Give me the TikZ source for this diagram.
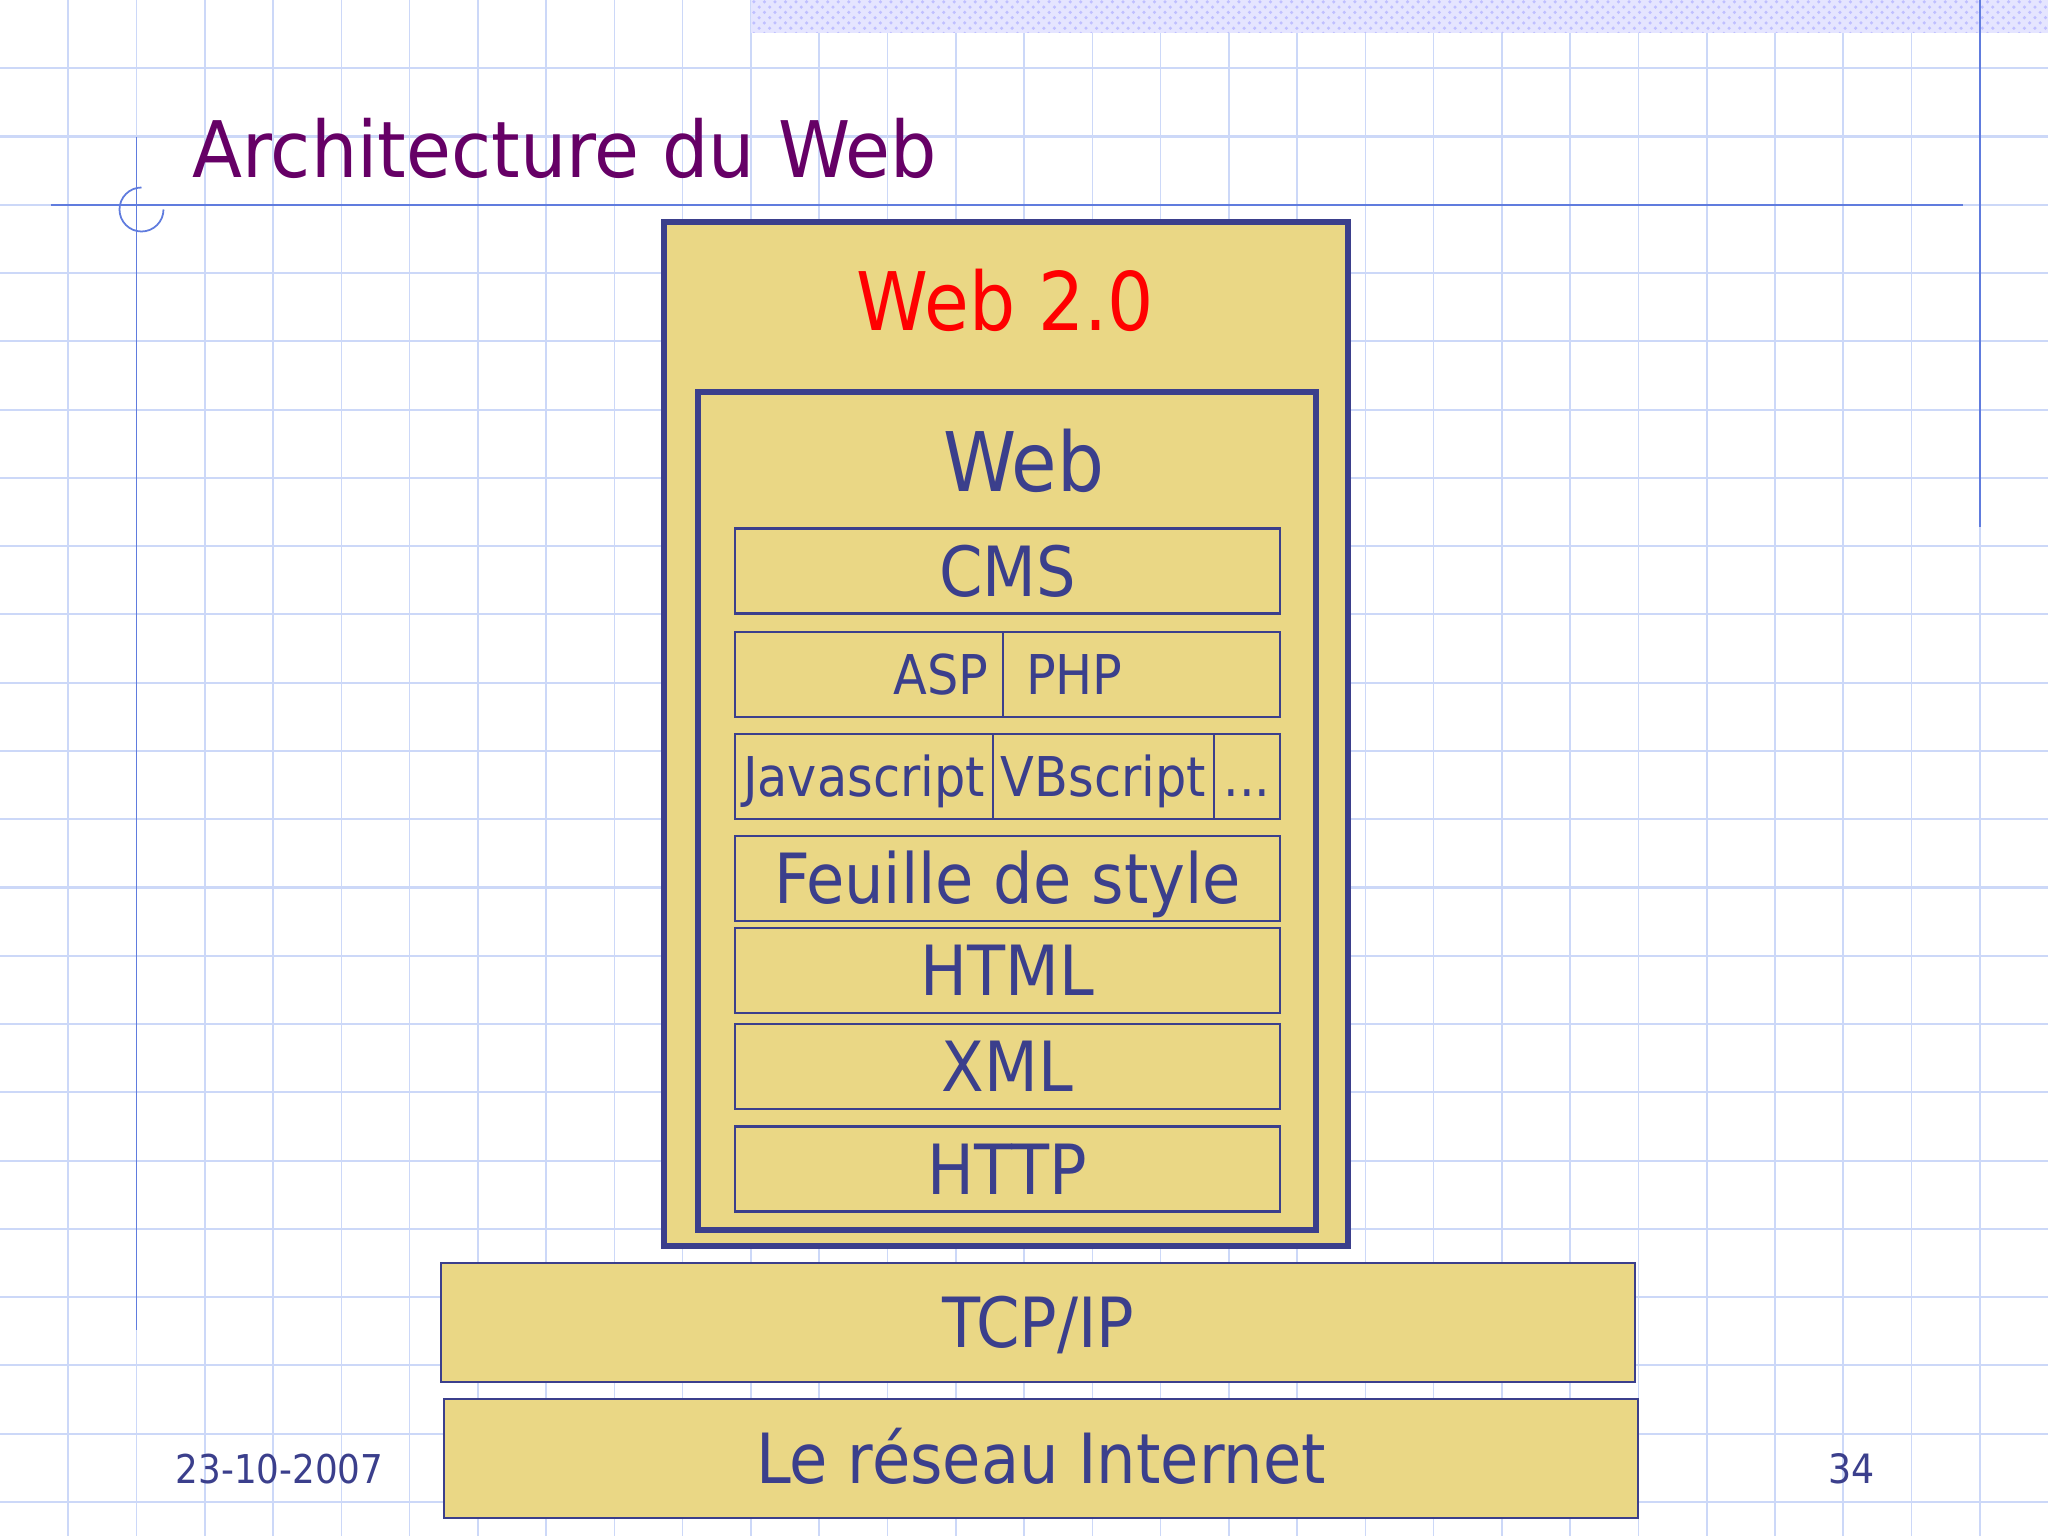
\documentclass[tikz,border=0pt]{standalone}
\usepackage{fontspec}
\setmainfont{DejaVu Sans Condensed}
\newfontfamily\titlefont{DejaVu Sans Condensed}[FakeStretch=1.04]
\usetikzlibrary{patterns}
\definecolor{gold}{RGB}{234,215,133}
\definecolor{ink}{RGB}{59,63,140}
\definecolor{gridblue}{RGB}{204,216,248}
\definecolor{ruleblue}{RGB}{96,124,222}
\definecolor{titlepurple}{RGB}{102,0,102}

\begin{document}
\begin{tikzpicture}[x=1cm,y=1cm,
    layer/.style={draw=ink, fill=gold, text=ink, line width=0.6pt, inner sep=0pt},
    frame/.style={draw=ink, fill=gold, line width=1.6pt, inner sep=0pt},
    row/.style={layer, minimum height=0.85cm},
    lbl/.style={text=ink, inner sep=0pt, text depth=0pt},
    big/.style={font=\fontsize{19.7}{22}\selectfont, text height=0.505cm, text depth=0pt},
    small/.style={font=\fontsize{15.6}{18}\selectfont, text height=0.40cm, text depth=0pt}]

    \useasboundingbox (0,0) rectangle (20.48,-15.36);
    \fill[white] (0,0) rectangle (20.48,-15.36);
    % squared paper
    \foreach \i in {1,...,29}
      \draw[gridblue, line width=0.45pt] (\i*0.6827,0) -- (\i*0.6827,-15.36);
    \foreach \j in {1,...,22}
      \draw[gridblue, line width=0.6pt] (0,-\j*0.6827) -- (20.48,-\j*0.6827);
    \fill[blue!10] (7.51,0) rectangle (20.48,-0.33);
    \fill[pattern=crosshatch dots, pattern color=blue!25] (7.51,0) rectangle (20.48,-0.33);
    \draw[ruleblue, line width=0.6pt] (0.51,-2.05) -- (19.63,-2.05);
    \draw[ruleblue, line width=0.5pt] (1.365,-1.37) -- (1.365,-13.30);
    \draw[ruleblue, line width=0.5pt] (19.80,0) -- (19.80,-5.27);
    \draw[ruleblue, line width=0.5pt] (1.415,-1.875) arc[start angle=90, end angle=360, radius=0.22];

    \node[anchor=base west, inner sep=0pt, text=titlepurple, font=\titlefont\fontsize{22.2}{26}\selectfont] (title) at (1.92,-1.78) {Architecture du Web};

    % web stack
    \node[frame, minimum width=6.84cm, minimum height=10.24cm] (web20) at (10.06,-7.34) {};
    \node[lbl, text=red, font=\fontsize{23}{28}\selectfont, text height=0.59cm] (web20lbl) at (10.054,-3.015) {Web 2.0};
    \node[frame, minimum width=6.18cm, minimum height=8.38cm] (web) at (10.07,-8.11) {};
    \node[lbl, font=\fontsize{23.4}{28}\selectfont, text height=0.60cm] (weblbl) at (10.235,-4.62) {Web};

    \node[row, big, minimum width=5.45cm] (cms) at (10.075,-5.71) {CMS};
    \node[row, minimum width=2.68cm] (asp) at (8.69,-6.745) {};
    \node[row, minimum width=2.77cm] (php) at (11.415,-6.745) {};
    \node[lbl, small, anchor=east] (asplbl) at ([xshift=-0.15cm]asp.east) {ASP};
    \node[lbl, small, anchor=west] (phplbl) at ([xshift=0.235cm]php.west) {PHP};
    \node[row, small, minimum width=2.58cm] (js) at (8.64,-7.765) {Javascript};
    \node[row, small, minimum width=2.21cm] (vbs) at (11.035,-7.765) {VBscript};
    \node[row, small, minimum width=0.66cm] (etc) at (12.47,-7.765) {...};
    \node[row, big, minimum width=5.45cm] (css) at (10.075,-8.785) {Feuille de style};
    \node[row, big, minimum width=5.45cm] (html) at (10.075,-9.705) {HTML};
    \node[row, big, minimum width=5.45cm] (xml) at (10.075,-10.665) {XML};
    \node[row, big, minimum width=5.45cm] (http) at (10.075,-11.69) {HTTP};

    \node[layer, big, line width=0.7pt, minimum width=11.94cm, minimum height=1.19cm] (tcpip) at (10.38,-13.225) {TCP/IP};
    \node[layer, big, line width=0.7pt, minimum width=11.94cm, minimum height=1.19cm] (net) at (10.41,-14.585) {Le réseau Internet};

    \node[lbl, anchor=base west, font=\fontsize{11.3}{14}\selectfont] (date) at (1.75,-14.83) {23-10-2007};
    \node[lbl, anchor=base, font=\fontsize{11.5}{14}\selectfont] (page) at (18.52,-14.83) {34};
  \end{tikzpicture}
\end{document}
